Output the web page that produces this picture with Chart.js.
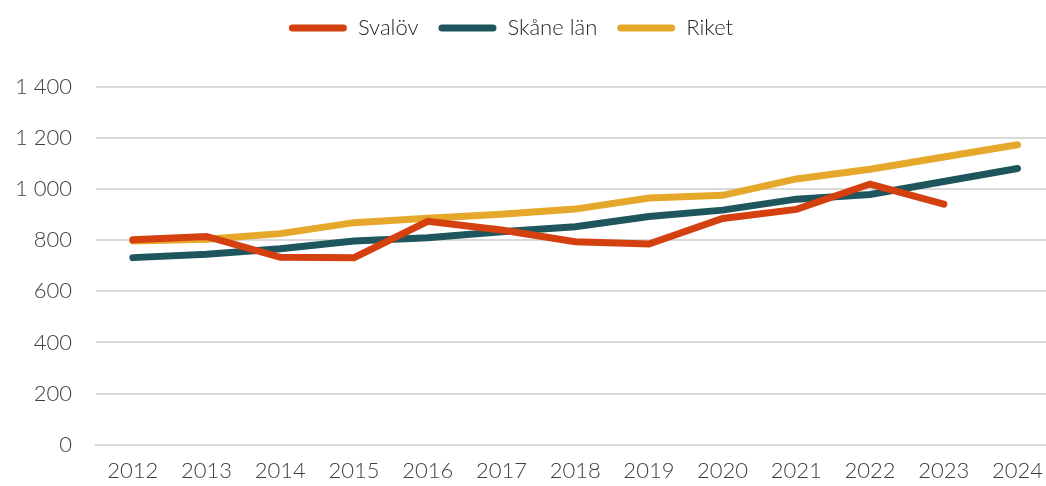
<!DOCTYPE html>
<html>
<head>
<meta charset="utf-8">
<script src="https://cdn.jsdelivr.net/npm/chart.js@4.4.1/dist/chart.umd.min.js"></script>
<style>
  html, body { margin: 0; padding: 0; background: #fff; overflow: hidden; }
  #wrap { width: 1056px; height: 497px; }
</style>
</head>
<body>
<div id="wrap"><canvas id="chart"></canvas></div>
<script>
const years = ['2012','2013','2014','2015','2016','2017','2018','2019','2020','2021','2022','2023','2024'];
const svalov = [802, 815, 733, 732, 874, 840, 794, 785, 885, 921, 1020, 941, null];
const skane = [732, 745, 767, 797, 810, 833, 853, 893, 918, 961, 979, 1030, 1081];
const riket = [797, 804, 826, 869, 886, 902, 922, 965, 976, 1040, 1078, 1126, 1174];
const yTicks = [0, 200, 400, 600, 800, 1000, 1200, 1400];

const fmt = v => String(v).replace(/\B(?=(\d{3})+(?!\d))/g, ' ');

// extra room under the legend, and nudge it left like in the original
const legendGap = {
  id: 'legendGap',
  beforeInit(chart) {
    const fit = chart.legend.fit;
    chart.legend.fit = function () {
      fit.bind(chart.legend)();
      this.height += 38;
    };
  },
  afterLayout(chart) {
    chart.legend.left -= 17;
    chart.legend.right -= 17;
  }
};

const line = (label, data, color) => ({
  label: label,
  data: data,
  borderColor: color,
  backgroundColor: color,
  borderWidth: 7,
  borderCapStyle: 'round',
  borderJoinStyle: 'miter',
  pointRadius: 0,
  tension: 0,
  spanGaps: false
});

new Chart(document.getElementById('chart'), {
  type: 'line',
  data: {
    labels: years,
    datasets: [
      line('Svalöv', svalov, '#D4400F'),
      line('Skåne län', skane, '#1F565D'),
      line('Riket', riket, '#E5A82A')
    ]
  },
  options: {
    responsive: true,
    maintainAspectRatio: false,
    animation: false,
    layout: { padding: { top: -3, bottom: 0, left: 0, right: 0 } },
    plugins: {
      legend: {
        position: 'top',
        align: 'center',
        labels: {
          boxWidth: 58,
          boxHeight: 7,
          useBorderRadius: true,
          borderRadius: 3.5,
          padding: 20,
          color: '#262626',
          font: { family: 'Lato', size: 22, weight: '300' },
          generateLabels(chart) {
            const items = Chart.defaults.plugins.legend.labels.generateLabels(chart);
            items.forEach(it => { it.lineWidth = 0; });
            return items;
          }
        }
      },
      tooltip: { enabled: false }
    },
    scales: {
      x: {
        offset: true,
        grid: { display: false, drawTicks: false },
        border: { display: true, color: '#d9d9d9', width: 2 },
        ticks: {
          color: '#404040',
          padding: 13,
          maxRotation: 0,
          font: { family: 'Lato', size: 22, weight: '300' }
        }
      },
      y: {
        min: 0,
        max: 1400,
        afterFit(scale) { scale.width = 96; },
        afterBuildTicks(scale) { scale.ticks = yTicks.map(v => ({ value: v })); },
        grid: { color: '#d9d9d9', lineWidth: 2, drawTicks: false },
        border: { display: false },
        ticks: {
          color: '#404040',
          padding: 24,
          callback: v => fmt(v),
          font: { family: 'Lato', size: 22, weight: '300' }
        }
      }
    }
  },
  plugins: [legendGap]
});
</script>
</body>
</html>
